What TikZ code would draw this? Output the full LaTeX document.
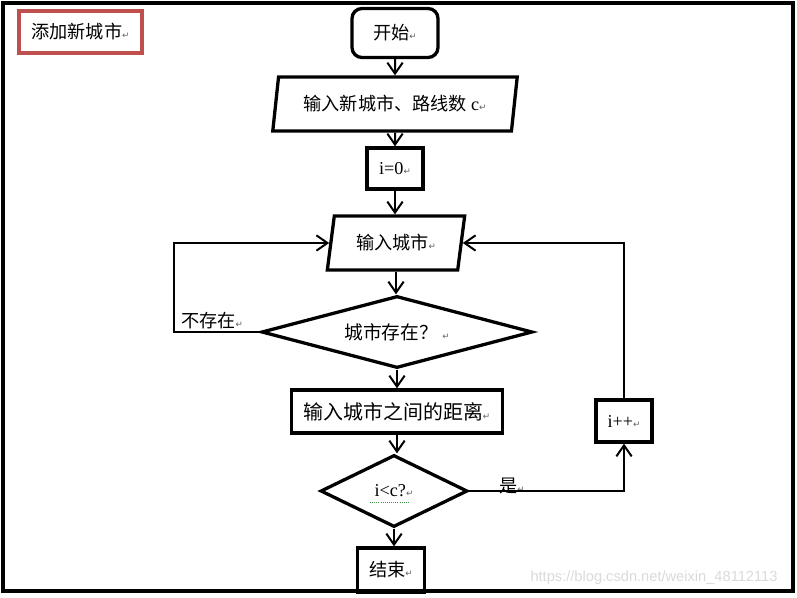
\documentclass[tikz,border=0pt]{standalone}
\usepackage{fontspec}
\usepackage{xcolor}
\usepackage{tikz}
\usetikzlibrary{shapes.geometric, arrows.meta, positioning}
\setmainfont{Liberation Serif}
\newfontfamily\zhfont{Noto Sans CJK SC}
\newfontfamily\markfont{DejaVu Sans}
\newfontfamily\urlfont{Liberation Sans}
\definecolor{titleColor}{RGB}{192,80,77}
\definecolor{markColor}{RGB}{95,95,95}
\definecolor{waterColor}{RGB}{218,218,218}
\definecolor{checkColor}{RGB}{60,150,60}
\newcommand{\pmk}{{\markfont\fontsize{7.5}{8}\selectfont\textcolor{markColor}{↵}}}

\begin{document}
\begin{tikzpicture}[
        x=0.03cm, y=-0.03cm,
        every node/.style={font=\zhfont\fontsize{15.5}{17}\selectfont},
        procbox/.style={rectangle, draw, line width=2.8pt, inner sep=0pt, align=center},
        startbox/.style={procbox, rounded corners=0.3cm},
        iobox/.style={trapezium, draw, line width=2.8pt, inner sep=0pt, trapezium left angle=75, trapezium right angle=105, trapezium stretches=true, minimum height=1.62cm},
        decision/.style={diamond, draw, line width=2.8pt, inner sep=0pt, aspect=3},
        arrow/.style={-{Straight Barb[length=3.3mm, width=4.6mm]}, line width=1.7pt},
        line/.style={line width=1.7pt}
    ]
        \useasboundingbox (0,0) rectangle (797,597);
        % Frame and title
        \draw[line width=2.6pt] (3,3) rectangle (793,591);
        \node[procbox, draw=titleColor, minimum width=3.69cm, minimum height=1.26cm] (title) at (80.5,32) {添加新城市\pmk};

        % Main column
        \node[startbox, minimum width=2.58cm, minimum height=1.47cm] (start) at (395,33) {开始\pmk};
        \node[iobox, minimum width=7.35cm] (newcity) at (395,104) {输入新城市、路线数 {\rmfamily c}\pmk};
        \node[procbox, font=\rmfamily\fontsize{15.5}{17}\selectfont, minimum width=1.68cm, minimum height=1.23cm] (init) at (395,168.5) {i=0\pmk};
        \node[iobox, minimum width=4.14cm] (city) at (396,243) {输入城市\pmk};
        \node[decision, minimum width=8.13cm, minimum height=2.16cm, font=\zhfont\fontsize{16}{18}\selectfont] (exist) at (397,332) {城市存在？ \pmk};
        \node[procbox, minimum width=6.33cm, minimum height=1.29cm, font=\zhfont\fontsize{17}{19}\selectfont] (dist) at (397,411.5) {输入城市之间的距离\pmk};
        \node[decision, minimum width=4.41cm, minimum height=2.16cm, font=\rmfamily\fontsize{15.5}{17}\selectfont] (cond) at (394,491) {i<c?\pmk};
        \node[procbox, minimum width=2.01cm, minimum height=1.32cm] (stop) at (391,570) {结束\pmk};
        \node[procbox, font=\rmfamily\fontsize{15.5}{17}\selectfont, minimum width=1.68cm, minimum height=1.26cm] (inc) at (624,421) {i++\pmk};

        % Labels
        \node (nolabel) at (212,321) {不存在\pmk};
        \node (yeslabel) at (512,486) {是\pmk};
        \node[font=\urlfont\fontsize{12.5}{14}\selectfont, text=waterColor] (water) at (654,578) {https://blog.csdn.net/weixin\_48112113};
        \draw[checkColor, densely dotted, line width=0.8pt] (370,502) -- (410,502);

        % Connectors
        \coordinate (leftturn) at (174,243);
        \draw[arrow] (start) -- (newcity);
        \draw[arrow] (newcity) -- (init);
        \draw[arrow] (init.south) -- (init.south |- city.north);
        \draw[arrow] (city.south) -- (city.south |- exist.north);
        \draw[arrow] (exist.south) -- (dist.north);
        \draw[arrow] (dist.south) -- (dist.south |- cond.north);
        \draw[arrow] (cond.south) -- (cond.south |- stop.north);
        \draw[arrow] (exist.west) -| (leftturn) -- (city.west);
        \draw[arrow] (cond.east) -| (inc.south);
        \draw[arrow] (inc.north) |- (city.east);
    \end{tikzpicture}
\end{document}
